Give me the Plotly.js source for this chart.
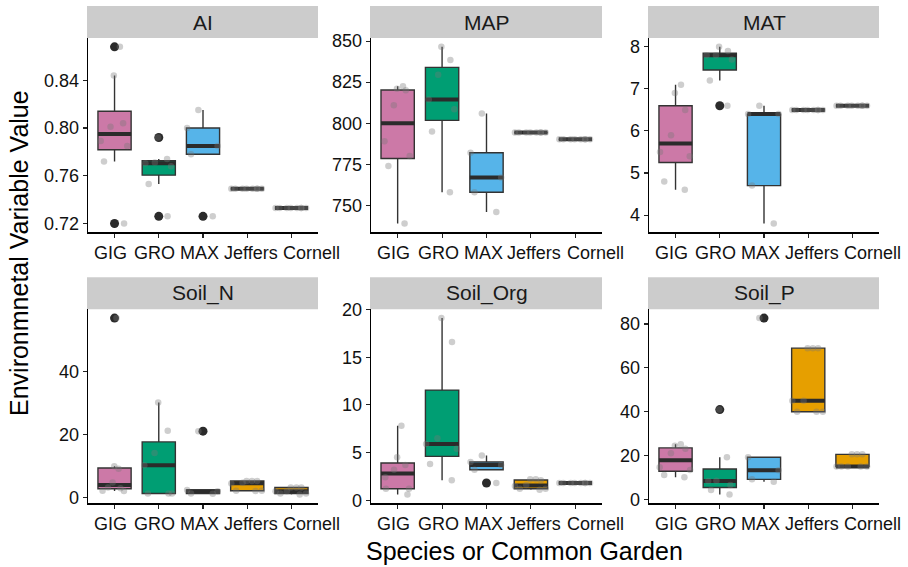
<!DOCTYPE html>
<html><head><meta charset="utf-8">
<script src="https://cdn.plot.ly/plotly-3.0.1.min.js"></script>
<style>html,body{margin:0;padding:0;background:#fff}#chart{width:908px;height:567px}</style>
</head><body><div id="chart"></div>
<script>
// ---------- data ----------
const categories = ['GIG', 'GRO', 'MAX', 'Jeffers', 'Cornell'];
const panelNames = ['AI', 'MAP', 'MAT', 'Soil_N', 'Soil_Org', 'Soil_P'];

// observations per category (GIG, GRO, MAX, Jeffers, Cornell)
const AI = [
  [0.720, 0.772, 0.785, 0.789, 0.801, 0.804, 0.844, 0.868],
  [0.726, 0.753, 0.768, 0.7705, 0.771, 0.774, 0.792],
  [0.726, 0.778, 0.785, 0.800, 0.815],
  [0.749, 0.749, 0.749, 0.749, 0.749, 0.749, 0.749, 0.749],
  [0.733, 0.733, 0.733, 0.733, 0.733, 0.733, 0.733, 0.733]
];
const MAP = [
  [739, 774, 780, 789, 811, 820, 821, 822.5],
  [758, 795, 808.5, 814.5, 829.5, 838.5, 846.5],
  [746, 758, 767, 782, 806],
  [794.3, 794.3, 794.3, 794.3, 794.3, 794.3, 794.3, 794.3],
  [790.2, 790.2, 790.2, 790.2, 790.2, 790.2, 790.2, 790.2]
];
const MAT = [
  [4.6, 4.8, 5.4, 5.5, 5.9, 6.5, 6.9, 7.1],
  [6.6, 7.2, 7.7, 7.8, 7.8, 7.9, 8.0],
  [3.8, 4.7, 6.4, 6.4, 6.6],
  [6.5, 6.5, 6.5, 6.5, 6.5, 6.5, 6.5, 6.5],
  [6.6, 6.6, 6.6, 6.6, 6.6, 6.6, 6.6, 6.6]
];
const Soil_N = [
  [2.1, 2.2, 3.0, 3.2, 4.8, 9.2, 10, 57],
  [1.3, 1.3, 1.3, 10.3, 14.2, 21.2, 30.2],
  [1.2, 1.3, 2.0, 2.4, 21.1],
  [2.1, 2.2, 2.2, 4.5, 4.7, 5.3, 5.3, 5.3],
  [1.0, 1.3, 1.3, 2.0, 2.0, 3.2, 3.2, 3.2]
];
const Soil_Org = [
  [0.6, 1.2, 1.2, 2.4, 3.2, 3.7, 4.5, 7.8],
  [2.1, 3.8, 5.4, 5.9, 6.5, 16.6, 19.1],
  [1.8, 3.2, 3.7, 4.0, 4.7],
  [1.1, 1.2, 1.2, 1.5, 1.6, 2.1, 2.2, 2.2],
  [1.8, 1.8, 1.8, 1.8, 1.8, 1.8, 1.8, 1.8]
];
const Soil_P = [
  [10.1, 11.2, 13.5, 14.7, 21.1, 23.2, 24.5, 25.2],
  [2.3, 4.3, 6.6, 8.4, 8.6, 19.3, 41],
  [8.1, 9.2, 13.3, 19.3, 82.7],
  [40, 40, 40, 45, 45, 69, 69, 69],
  [15, 15, 15, 15, 15, 20.6, 20.6, 20.6]
];

// tick values and labels
const AI_ticks = [0.72, 0.76, 0.80, 0.84];
const AI_tickLabels = ['0.72', '0.76', '0.80', '0.84'];
const MAP_ticks = [750, 775, 800, 825, 850];
const MAP_tickLabels = ['750', '775', '800', '825', '850'];
const MAT_ticks = [4, 5, 6, 7, 8];
const MAT_tickLabels = ['4', '5', '6', '7', '8'];
const Soil_N_ticks = [0, 20, 40];
const Soil_N_tickLabels = ['0', '20', '40'];
const Soil_Org_ticks = [0, 5, 10, 15, 20];
const Soil_Org_tickLabels = ['0', '5', '10', '15', '20'];
const Soil_P_ticks = [0, 20, 40, 60, 80];
const Soil_P_tickLabels = ['0', '20', '40', '60', '80'];

const yTitle = 'Environmnetal Variable Value';
const xTitle = 'Species or Common Garden';

// ---------- styling ----------
const boxColors = ['#CC79A7', '#009E73', '#56B4E9', '#E69F00', '#E69F00'];
const FONT = 'Liberation Sans, Arial, Helvetica, sans-serif';
const W = 908, H = 567;
const colsPx = [[88, 318], [371, 602], [649, 879]];
const rowsPx = [[38, 232.3], [309.3, 503.3]];
const stripH = 32;
const labelShift = [-4, -4, -3.5, 3.5, 20];

const panelData = [AI, MAP, MAT, Soil_N, Soil_Org, Soil_P];
const panelTicks = [AI_ticks, MAP_ticks, MAT_ticks, Soil_N_ticks, Soil_Org_ticks, Soil_P_ticks];
const panelTickLabels = [AI_tickLabels, MAP_tickLabels, MAT_tickLabels, Soil_N_tickLabels, Soil_Org_tickLabels, Soil_P_tickLabels];

// ggplot-style (type 7) quantiles and Tukey fences
function quantile(s, p) {
  const h = (s.length - 1) * p, lo = Math.floor(h), hi = Math.ceil(h);
  return s[lo] + (h - lo) * (s[hi] - s[lo]);
}
function boxStats(vals) {
  const s = [...vals].sort((a, b) => a - b);
  const q1 = quantile(s, 0.25), med = quantile(s, 0.5), q3 = quantile(s, 0.75);
  const iqr = q3 - q1, eps = 1e-9;
  const lo = q1 - 1.5 * iqr - eps, hi = q3 + 1.5 * iqr + eps;
  const inside = s.filter(v => v >= lo && v <= hi);
  return { q1, med, q3, lf: Math.min(...inside), uf: Math.max(...inside), out: s.filter(v => v < lo || v > hi) };
}

const traces = [];
const layout = {
  width: W, height: H,
  margin: { l: 0, r: 0, t: 0, b: 0 },
  paper_bgcolor: '#fff', plot_bgcolor: '#fff',
  boxmode: 'overlay',
  showlegend: false,
  font: { family: FONT, color: '#000' },
  shapes: [], annotations: []
};

panelData.forEach((groups, i) => {
  const n = i === 0 ? '' : String(i + 1);
  const xa = 'x' + n, ya = 'y' + n;
  const row = Math.floor(i / 3), col = i % 3;
  const [l, r] = colsPx[col];
  const [t, b] = rowsPx[row];

  const all = groups.flat();
  const mn = Math.min(...all), mx = Math.max(...all), pad = (mx - mn) * 0.05;

  layout['xaxis' + n] = {
    domain: [l / W, r / W], anchor: ya, type: 'category',
    categoryorder: 'array', categoryarray: categories, range: [-0.6, 4.6],
    showline: true, linecolor: '#000', linewidth: 1.3,
    ticks: 'outside', ticklen: 4, tickwidth: 1.1, tickcolor: '#222',
    showticklabels: false, showgrid: false, zeroline: false, fixedrange: true
  };
  layout['yaxis' + n] = {
    domain: [1 - b / H, 1 - t / H], anchor: xa,
    range: [mn - pad, mx + pad],
    tickvals: panelTicks[i], ticktext: panelTickLabels[i],
    tickfont: { size: 18, color: '#111', family: FONT },
    showline: true, linecolor: '#000', linewidth: 1.3,
    ticks: 'outside', ticklen: 4, tickwidth: 1.1, tickcolor: '#222',
    showgrid: false, zeroline: false, fixedrange: true
  };

  // strip
  layout.shapes.push({
    type: 'rect', xref: 'paper', yref: 'paper',
    x0: (l - 1) / W, x1: r / W, y0: 1 - t / H, y1: 1 - (t - stripH) / H,
    fillcolor: '#CCCCCC', line: { width: 0 }, layer: 'below'
  });
  layout.annotations.push({
    xref: 'paper', yref: 'paper', x: (l + r) / 2 / W, y: 1 - (t - stripH / 2) / H,
    text: panelNames[i], showarrow: false, xanchor: 'center', yanchor: 'middle',
    font: { size: 21, color: '#1a1a1a', family: FONT }
  });

  // category labels under the x axis
  categories.forEach((c, k) => {
    layout.annotations.push({
      xref: xa, yref: ya + ' domain', x: c, y: 0, yanchor: 'top', yshift: -9,
      xshift: labelShift[k], text: c, showarrow: false,
      font: { size: 18, color: '#111', family: FONT }
    });
  });

  const stats = groups.map(boxStats);
  // boxes
  stats.forEach((s, k) => {
    traces.push({
      type: 'box', xaxis: xa, yaxis: ya, x: [categories[k]],
      q1: [s.q1], median: [s.med], q3: [s.q3], lowerfence: [s.lf], upperfence: [s.uf],
      width: 0.75, whiskerwidth: 0, boxpoints: false,
      fillcolor: boxColors[k], line: { color: '#333', width: 1.4 },
      hoverinfo: 'skip', showlegend: false
    });
  });
  // thick median lines
  stats.forEach((s, k) => {
    traces.push({
      type: 'box', xaxis: xa, yaxis: ya, x: [categories[k]],
      q1: [s.med], median: [s.med], q3: [s.med], lowerfence: [s.med], upperfence: [s.med],
      width: 0.75, whiskerwidth: 0, boxpoints: false,
      fillcolor: 'rgba(0,0,0,0)', line: { color: '#2b2b2b', width: 4 },
      hoverinfo: 'skip', showlegend: false
    });
  });
  // outliers
  stats.forEach((s, k) => {
    if (!s.out.length) return;
    traces.push({
      type: 'box', xaxis: xa, yaxis: ya, x: s.out.map(() => categories[k]), y: s.out,
      boxpoints: 'all', jitter: 0, pointpos: 0, width: 0.75,
      fillcolor: 'rgba(0,0,0,0)', line: { width: 0, color: 'rgba(0,0,0,0)' },
      marker: { color: '#2b2b2b', size: 9 }, hoveron: 'points', showlegend: false
    });
  });
  // jittered observations
  groups.forEach((vals, k) => {
    traces.push({
      type: 'box', xaxis: xa, yaxis: ya, x: vals.map(() => categories[k]), y: vals,
      boxpoints: 'all', jitter: 1, pointpos: 0, width: 0.85,
      fillcolor: 'rgba(0,0,0,0)', line: { width: 0, color: 'rgba(0,0,0,0)' },
      marker: { color: 'rgba(120,120,120,0.36)', size: 6.5 }, hoveron: 'points', showlegend: false
    });
  });
});

// axis titles
layout.annotations.push({
  xref: 'paper', yref: 'paper', x: 19 / W, y: 1 - 253 / H, textangle: -90,
  text: yTitle, showarrow: false, xanchor: 'center', yanchor: 'middle',
  font: { size: 25, color: '#000', family: FONT }
});
layout.annotations.push({
  xref: 'paper', yref: 'paper', x: 524 / W, y: 1 - 551 / H,
  text: xTitle, showarrow: false, xanchor: 'center', yanchor: 'middle',
  font: { size: 25, color: '#000', family: FONT }
});

Plotly.newPlot('chart', traces, layout, { staticPlot: true, displayModeBar: false });
</script>
</body></html>
